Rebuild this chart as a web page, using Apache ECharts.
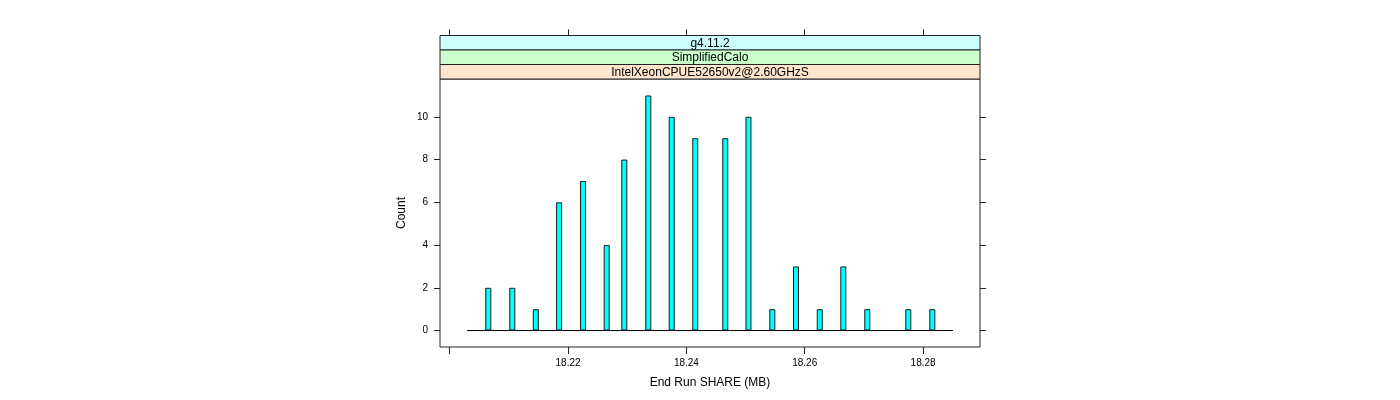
<!DOCTYPE html>
<html>
<head>
<meta charset="utf-8">
<script src="https://cdn.jsdelivr.net/npm/echarts@6/dist/echarts.min.js"></script>
<style>
html,body{margin:0;padding:0;background:#fff;}
#chart{width:1400px;height:400px;}
</style>
</head>
<body>
<div id="chart"></div>
<script>
// Data
var shareMB = [18.20652, 18.21058, 18.21455, 18.21849, 18.22254, 18.22653, 18.22951, 18.23356, 18.23752, 18.24150,
               18.24657, 18.25049, 18.25452, 18.25852, 18.26254, 18.26652, 18.27057, 18.27750, 18.28156];
var counts  = [2, 2, 1, 6, 7, 4, 8, 11, 10, 9, 9, 10, 1, 3, 1, 3, 1, 1, 1];
var histRange = [18.20292, 18.28505];
var xTicks = [18.20, 18.22, 18.24, 18.26, 18.28];
var xLabels = [18.22, 18.24, 18.26, 18.28];
var yTicks = [0, 2, 4, 6, 8, 10];
var strips = ['g4.11.2', 'SimplifiedCalo', 'IntelXeonCPUE52650v2@2.60GHzS'];
var stripColors = ['#CCFFFF', '#CCFFCC', '#FFE5CC'];
var xRange = [18.19836, 18.28962];
var yRange = [-0.77, 11.77];

var FONT = 'Liberation Sans';
var chart = echarts.init(document.getElementById('chart'), null, {renderer: 'canvas'});

var barData = shareMB.map(function (x, i) { return [x, counts[i]]; });

var P = {left: 440, top: 79, width: 540, height: 268};
var stripH = 14.5;
var graphics = [];
strips.forEach(function (s, i) {
  var y = P.top - (strips.length - i) * stripH;
  graphics.push({
    type: 'rect', shape: {x: P.left, y: y, width: P.width, height: stripH},
    style: {fill: stripColors[i], stroke: '#222', lineWidth: 1}, z: 10
  });
  graphics.push({
    type: 'text', x: P.left + P.width / 2, y: y + stripH / 2 + 0.5,
    style: {text: s, fill: '#000', font: '12px "' + FONT + '"', align: 'center', verticalAlign: 'middle'}, z: 11
  });
});

var tickStyle = {color: '#222', width: 1};

chart.setOption({
  animation: false,
  backgroundColor: '#fff',
  textStyle: {fontFamily: FONT},
  grid: [
    {left: P.left, top: P.top, width: P.width, height: P.height, show: true, borderColor: '#222', borderWidth: 1, backgroundColor: 'transparent'},
    {left: P.left, top: P.top - strips.length * stripH, width: P.width, height: strips.length * stripH, show: false}
  ],
  xAxis: [
    {
      type: 'value', gridIndex: 0, min: xRange[0], max: xRange[1], position: 'bottom',
      name: 'End Run SHARE (MB)', nameLocation: 'middle', nameGap: 30,
      nameTextStyle: {fontSize: 12, color: '#000', fontFamily: FONT},
      axisLine: {show: false, onZero: false},
      axisTick: {show: true, inside: false, length: 7, lineStyle: tickStyle, customValues: xTicks},
      axisLabel: {show: true, fontSize: 10, color: '#000', margin: 11, customValues: xLabels, fontFamily: FONT,
        formatter: function (v) { return v.toFixed(2); }},
      splitLine: {show: false}
    },
    {
      type: 'value', gridIndex: 1, min: xRange[0], max: xRange[1], position: 'top',
      axisLine: {show: false, onZero: false},
      axisTick: {show: true, inside: false, length: 6, lineStyle: tickStyle, customValues: xTicks},
      axisLabel: {show: false},
      splitLine: {show: false}
    }
  ],
  yAxis: [
    {
      type: 'value', gridIndex: 0, min: yRange[0], max: yRange[1], position: 'left',
      name: 'Count', nameLocation: 'middle', nameGap: 32, nameRotate: 90,
      nameTextStyle: {fontSize: 12, color: '#000', fontFamily: FONT},
      axisLine: {show: false, onZero: false},
      axisTick: {show: true, inside: false, length: 6, lineStyle: tickStyle, customValues: yTicks},
      axisLabel: {show: true, fontSize: 10, color: '#000', margin: 12, customValues: yTicks, fontFamily: FONT},
      splitLine: {show: false}
    },
    {
      type: 'value', gridIndex: 0, min: yRange[0], max: yRange[1], position: 'right',
      axisLine: {show: false, onZero: false},
      axisTick: {show: true, inside: false, length: 6, lineStyle: tickStyle, customValues: yTicks},
      axisLabel: {show: false},
      splitLine: {show: false}
    },
    {
      type: 'value', gridIndex: 1, min: 0, max: 1, show: false,
      axisLine: {onZero: false}
    }
  ],
  graphic: graphics,
  series: [
    {
      type: 'bar', xAxisIndex: 0, yAxisIndex: 0, data: barData, barWidth: 6,
      itemStyle: {color: '#00FFFF', borderColor: '#1a1a1a', borderWidth: 1},
      z: 2
    },
    {
      type: 'line', xAxisIndex: 0, yAxisIndex: 0,
      data: [[histRange[0], 0], [histRange[1], 0]],
      showSymbol: false, symbol: 'none',
      lineStyle: {color: '#000', width: 1}, z: 3, silent: true
    }
  ]
});
</script>
</body>
</html>
